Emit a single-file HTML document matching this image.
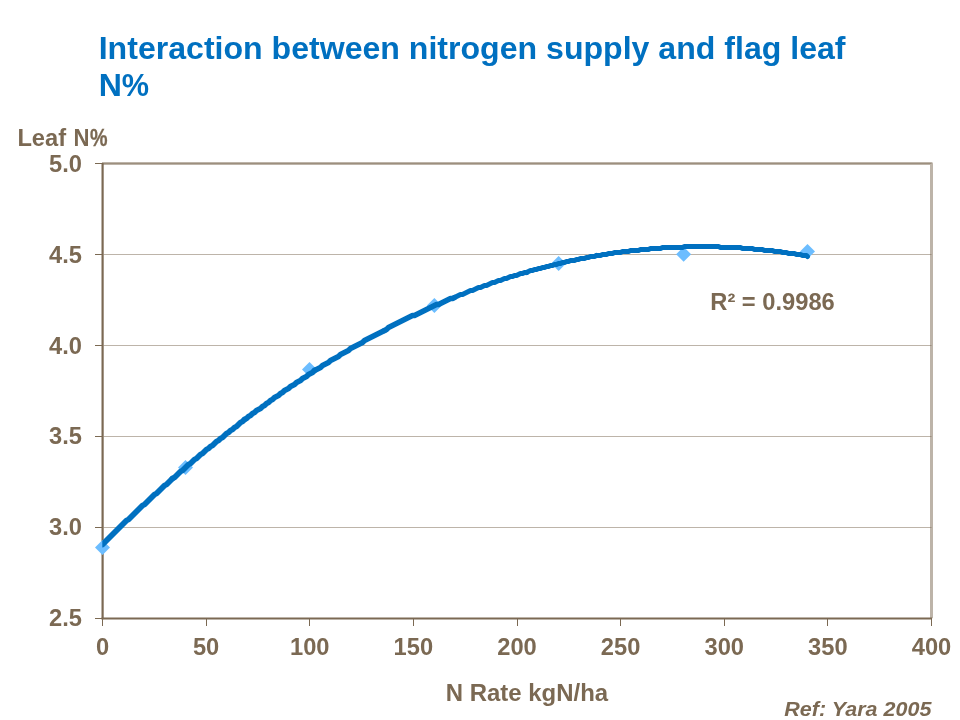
<!DOCTYPE html>
<html lang="en"><head><meta charset="utf-8"><title>Interaction between nitrogen supply and flag leaf N%</title>
<style>
html,body{margin:0;padding:0;background:#fff;}
body{width:960px;height:720px;overflow:hidden;position:relative;font-family:"Liberation Sans",sans-serif;}
svg{position:absolute;left:0;top:0;display:block;}
text{font-family:"Liberation Sans",sans-serif;font-weight:bold;}
.t{fill:#0070c0;font-size:32.1px;}
.a{fill:#7b6953;font-size:23.7px;}
.r{fill:#7b6953;font-size:20.6px;font-style:italic;}
</style></head><body>
<svg width="960" height="720" viewBox="0 0 960 720">
<rect width="960" height="720" fill="#fff"/>
<defs><clipPath id="pc"><rect x="102.3" y="150" width="840" height="480"/></clipPath></defs>


<text class="t" transform="translate(98.7,58.75) scale(1,1)">Interaction between nitrogen supply and flag leaf</text>
<text class="t" transform="translate(98.7,96.25) scale(1,1)"><tspan>N</tspan><tspan textLength="27.3" lengthAdjust="spacingAndGlyphs">%</tspan></text>
<path d="M102.00,163.50 H931.50 V618.30" fill="none" stroke="#7b6953" stroke-opacity="0.5" stroke-width="3" stroke-linejoin="round"/>
<line x1="103.50" x2="931.50" y1="527.50" y2="527.50" stroke="#7b6953" stroke-opacity="0.5" stroke-width="1"/>
<line x1="103.50" x2="931.50" y1="436.50" y2="436.50" stroke="#7b6953" stroke-opacity="0.5" stroke-width="1"/>
<line x1="103.50" x2="931.50" y1="345.50" y2="345.50" stroke="#7b6953" stroke-opacity="0.5" stroke-width="1"/>
<line x1="103.50" x2="931.50" y1="254.50" y2="254.50" stroke="#7b6953" stroke-opacity="0.5" stroke-width="1"/>
<line x1="103.50" x2="931.50" y1="163.50" y2="163.50" stroke="#7b6953" stroke-opacity="0.5" stroke-width="1"/>
<line x1="102.60" x2="102.60" y1="163.00" y2="619.30" stroke="#7b6953" stroke-width="2.2"/>
<line x1="101.50" x2="932.00" y1="618.40" y2="618.40" stroke="#7b6953" stroke-width="2"/>
<line x1="95.00" x2="102.50" y1="618.50" y2="618.50" stroke="#7b6953" stroke-width="1"/>
<text class="a" text-anchor="end" x="81.9" y="625.80">2.5</text>
<line x1="95.00" x2="102.50" y1="527.50" y2="527.50" stroke="#7b6953" stroke-width="1"/>
<text class="a" text-anchor="end" x="81.9" y="534.80">3.0</text>
<line x1="95.00" x2="102.50" y1="436.50" y2="436.50" stroke="#7b6953" stroke-width="1"/>
<text class="a" text-anchor="end" x="81.9" y="443.80">3.5</text>
<line x1="95.00" x2="102.50" y1="345.50" y2="345.50" stroke="#7b6953" stroke-width="1"/>
<text class="a" text-anchor="end" x="81.9" y="353.80">4.0</text>
<line x1="95.00" x2="102.50" y1="254.50" y2="254.50" stroke="#7b6953" stroke-width="1"/>
<text class="a" text-anchor="end" x="81.9" y="262.80">4.5</text>
<line x1="95.00" x2="102.50" y1="163.50" y2="163.50" stroke="#7b6953" stroke-width="1"/>
<text class="a" text-anchor="end" x="81.9" y="171.80">5.0</text>
<line x1="102.50" x2="102.50" y1="618.30" y2="626.00" stroke="#7b6953" stroke-width="1"/>
<text class="a" text-anchor="middle" x="102.50" y="654.5">0</text>
<line x1="206.50" x2="206.50" y1="618.30" y2="626.00" stroke="#7b6953" stroke-width="1"/>
<text class="a" text-anchor="middle" x="206.12" y="654.5">50</text>
<line x1="309.50" x2="309.50" y1="618.30" y2="626.00" stroke="#7b6953" stroke-width="1"/>
<text class="a" text-anchor="middle" x="309.75" y="654.5">100</text>
<line x1="413.50" x2="413.50" y1="618.30" y2="626.00" stroke="#7b6953" stroke-width="1"/>
<text class="a" text-anchor="middle" x="413.38" y="654.5">150</text>
<line x1="517.50" x2="517.50" y1="618.30" y2="626.00" stroke="#7b6953" stroke-width="1"/>
<text class="a" text-anchor="middle" x="517.00" y="654.5">200</text>
<line x1="620.50" x2="620.50" y1="618.30" y2="626.00" stroke="#7b6953" stroke-width="1"/>
<text class="a" text-anchor="middle" x="620.62" y="654.5">250</text>
<line x1="724.50" x2="724.50" y1="618.30" y2="626.00" stroke="#7b6953" stroke-width="1"/>
<text class="a" text-anchor="middle" x="724.25" y="654.5">300</text>
<line x1="827.50" x2="827.50" y1="618.30" y2="626.00" stroke="#7b6953" stroke-width="1"/>
<text class="a" text-anchor="middle" x="827.88" y="654.5">350</text>
<line x1="931.50" x2="931.50" y1="618.30" y2="626.00" stroke="#7b6953" stroke-width="1"/>
<text class="a" text-anchor="middle" x="931.50" y="654.5">400</text>
<path d="M102.50,540.00 l7.5,7.5 l-7.5,7.5 l-7.5,-7.5 z" fill="#6cbdff"/>
<path d="M185.50,460.00 l7.5,7.5 l-7.5,7.5 l-7.5,-7.5 z" fill="#6cbdff"/>
<path d="M309.50,361.90 l7.5,7.5 l-7.5,7.5 l-7.5,-7.5 z" fill="#6cbdff"/>
<path d="M434.40,298.10 l7.5,7.5 l-7.5,7.5 l-7.5,-7.5 z" fill="#6cbdff"/>
<path d="M558.60,256.10 l7.5,7.5 l-7.5,7.5 l-7.5,-7.5 z" fill="#6cbdff"/>
<path d="M683.60,246.75 l7.5,7.5 l-7.5,7.5 l-7.5,-7.5 z" fill="#6cbdff"/>
<path d="M807.50,243.90 l7.5,7.5 l-7.5,7.5 l-7.5,-7.5 z" fill="#6cbdff"/>
<g fill="none" stroke="#0070c0" stroke-linecap="round" stroke-linejoin="round" clip-path="url(#pc)">
<path d="M102.5,544.5 L104.5,542.5 L106.5,540.5 L108.5,538.5 L110.5,536.5 L112.5,534.5 L114.5,532.5 L116.5,530.5 L118.5,528.5 L120.5,526.5 L122.5,524.5 L124.5,522.5 L126.5,520.5 L128.5,519.5 L130.5,517.5 L132.5,515.5 L134.5,513.5 L136.5,511.5 L138.5,509.5 L140.5,507.5 L142.5,505.5 L144.5,504.5 L146.5,502.5 L148.5,500.5 L150.5,498.5 L152.5,496.5 L154.5,494.5 L156.5,493.5 L158.5,491.5 L160.5,489.5 L162.5,487.5 L164.5,485.5 L166.5,484.5 L168.5,482.5 L170.5,480.5 L172.5,478.5" stroke-width="5.77"/>
<path d="M172.5,478.5 L174.5,477.5 L176.5,475.5 L178.5,473.5 L180.5,471.5 L182.5,470.5 L184.5,468.5 L186.5,466.5 L188.5,464.5 L190.5,463.5 L192.5,461.5 L194.5,459.5 L196.5,458.5 L198.5,456.5 L200.5,454.5 L202.5,453.5 L204.5,451.5 L206.5,449.5 L208.5,448.5 L210.5,446.5 L212.5,445.5 L214.5,443.5 L216.5,441.5 L218.5,440.5 L220.5,438.5 L222.5,437.5 L224.5,435.5 L226.5,433.5 L228.5,432.5 L230.5,430.5 L232.5,429.5 L234.5,427.5 L236.5,426.5 L238.5,424.5 L240.5,422.5 L242.5,421.5 L244.5,419.5" stroke-width="5.69"/>
<path d="M244.5,419.5 L246.5,418.5 L248.5,416.5 L250.5,415.5 L252.5,413.5 L254.5,412.5 L256.5,410.5 L258.5,409.5 L260.5,408.5 L262.5,406.5 L264.5,405.5 L266.5,403.5 L268.5,402.5 L270.5,400.5 L272.5,399.5 L274.5,397.5 L276.5,396.5 L278.5,395.5 L280.5,393.5 L282.5,392.5 L284.5,390.5 L286.5,389.5 L288.5,388.5 L290.5,386.5 L292.5,385.5 L294.5,384.5 L296.5,382.5 L298.5,381.5 L300.5,380.5 L302.5,378.5 L304.5,377.5 L306.5,376.5 L308.5,374.5 L310.5,373.5 L312.5,372.5 L314.5,370.5" stroke-width="5.59"/>
<path d="M314.5,370.5 L316.5,369.5 L318.5,368.5 L320.5,367.5 L322.5,365.5 L324.5,364.5 L326.5,363.5 L328.5,362.5 L330.5,360.5 L332.5,359.5 L334.5,358.5 L336.5,357.5 L338.5,356.5 L340.5,354.5 L342.5,353.5 L344.5,352.5 L346.5,351.5 L348.5,350.5 L350.5,348.5 L352.5,347.5 L354.5,346.5 L356.5,345.5 L358.5,344.5 L360.5,343.5 L362.5,342.5 L364.5,340.5 L366.5,339.5 L368.5,338.5 L370.5,337.5 L372.5,336.5 L374.5,335.5 L376.5,334.5 L378.5,333.5 L380.5,332.5 L382.5,331.5 L384.5,330.5" stroke-width="5.48"/>
<path d="M384.5,330.5 L386.5,329.5 L388.5,327.5 L390.5,326.5 L392.5,325.5 L394.5,324.5 L396.5,323.5 L398.5,322.5 L400.5,321.5 L402.5,320.5 L404.5,319.5 L406.5,318.5 L408.5,317.5 L410.5,316.5 L412.5,315.5 L414.5,315.5 L416.5,314.5 L418.5,313.5 L420.5,312.5 L422.5,311.5 L424.5,310.5 L426.5,309.5 L428.5,308.5 L430.5,307.5 L432.5,306.5 L434.5,305.5 L436.5,304.5 L438.5,304.5 L440.5,303.5 L442.5,302.5 L444.5,301.5 L446.5,300.5 L448.5,299.5 L450.5,298.5 L452.5,298.5 L454.5,297.5" stroke-width="5.35"/>
<path d="M454.5,297.5 L456.5,296.5 L458.5,295.5 L460.5,294.5 L462.5,294.5 L464.5,293.5 L466.5,292.5 L468.5,291.5 L470.5,290.5 L472.5,290.5 L474.5,289.5 L476.5,288.5 L478.5,287.5 L480.5,287.5 L482.5,286.5 L484.5,285.5 L486.5,285.5 L488.5,284.5 L490.5,283.5 L492.5,282.5 L494.5,282.5 L496.5,281.5 L498.5,280.5 L500.5,280.5 L502.5,279.5 L504.5,278.5 L506.5,278.5 L508.5,277.5 L510.5,276.5 L512.5,276.5 L514.5,275.5 L516.5,275.5 L518.5,274.5 L520.5,273.5 L522.5,273.5 L524.5,272.5 L526.5,272.5" stroke-width="5.21"/>
<path d="M526.5,272.5 L528.5,271.5 L530.5,270.5 L532.5,270.5 L534.5,269.5 L536.5,269.5 L538.5,268.5 L540.5,268.5 L542.5,267.5 L544.5,267.5 L546.5,266.5 L548.5,266.5 L550.5,265.5 L552.5,265.5 L554.5,264.5 L556.5,264.5 L558.5,263.5 L560.5,263.5 L562.5,262.5 L564.5,262.5 L566.5,261.5 L568.5,261.5 L570.5,260.5 L572.5,260.5 L574.5,260.5 L576.5,259.5 L578.5,259.5 L580.5,258.5 L582.5,258.5 L584.5,258.5 L586.5,257.5 L588.5,257.5 L590.5,256.5 L592.5,256.5 L594.5,256.5 L596.5,255.5" stroke-width="5.04"/>
<path d="M596.5,255.5 L598.5,255.5 L600.5,255.5 L602.5,254.5 L604.5,254.5 L606.5,254.5 L608.5,253.5 L610.5,253.5 L612.5,253.5 L614.5,252.5 L616.5,252.5 L618.5,252.5 L620.5,252.5 L622.5,251.5 L624.5,251.5 L626.5,251.5 L628.5,251.5 L630.5,250.5 L632.5,250.5 L634.5,250.5 L636.5,250.5 L638.5,250.5 L640.5,249.5 L642.5,249.5 L644.5,249.5 L646.5,249.5 L648.5,249.5 L650.5,248.5 L652.5,248.5 L654.5,248.5 L656.5,248.5 L658.5,248.5 L660.5,248.5 L662.5,247.5 L664.5,247.5 L666.5,247.5" stroke-width="5.00"/>
<path d="M666.5,247.5 L668.5,247.5 L670.5,247.5 L672.5,247.5 L674.5,247.5 L676.5,247.5 L678.5,247.5 L680.5,247.5 L682.5,247.5 L684.5,246.5 L686.5,246.5 L688.5,246.5 L690.5,246.5 L692.5,246.5 L694.5,246.5 L696.5,246.5 L698.5,246.5 L700.5,246.5 L702.5,246.5 L704.5,246.5 L706.5,246.5 L708.5,246.5 L710.5,246.5 L712.5,246.5 L714.5,246.5 L716.5,246.5 L718.5,246.5 L720.5,247.5 L722.5,247.5 L724.5,247.5 L726.5,247.5 L728.5,247.5 L730.5,247.5 L732.5,247.5 L734.5,247.5 L736.5,247.5 L738.5,247.5" stroke-width="5.00"/>
<path d="M738.5,247.5 L740.5,247.5 L742.5,248.5 L744.5,248.5 L746.5,248.5 L748.5,248.5 L750.5,248.5 L752.5,248.5 L754.5,249.5 L756.5,249.5 L758.5,249.5 L760.5,249.5 L762.5,249.5 L764.5,250.5 L766.5,250.5 L768.5,250.5 L770.5,250.5 L772.5,250.5 L774.5,251.5 L776.5,251.5 L778.5,251.5 L780.5,251.5 L782.5,252.5 L784.5,252.5 L786.5,252.5 L788.5,253.5 L790.5,253.5 L792.5,253.5 L794.5,253.5 L796.5,254.5 L798.5,254.5 L800.5,254.5 L802.5,255.5 L804.5,255.5 L806.5,255.5 L807.5,256.5" stroke-width="5.00"/>
</g>
<text class="a" style="font-size:23.7px" y="145.9"><tspan x="17.4">Leaf </tspan><tspan x="73.4" textLength="16.0" lengthAdjust="spacingAndGlyphs" style="font-size:23.5px">N</tspan><tspan x="89.9" textLength="17.55" lengthAdjust="spacingAndGlyphs" style="font-size:23.5px;stroke:#7b6953;stroke-width:0.3px">%</tspan></text>
<text class="a" x="710.3" y="309.7">R² = 0.9986</text>
<text class="a" style="font-size:23.95px" x="445.8" y="700.7">N Rate kgN/ha</text>
<text class="r" transform="translate(784.3,715.6) scale(1.045,1)">Ref: Yara 2005</text>
</svg></body></html>
